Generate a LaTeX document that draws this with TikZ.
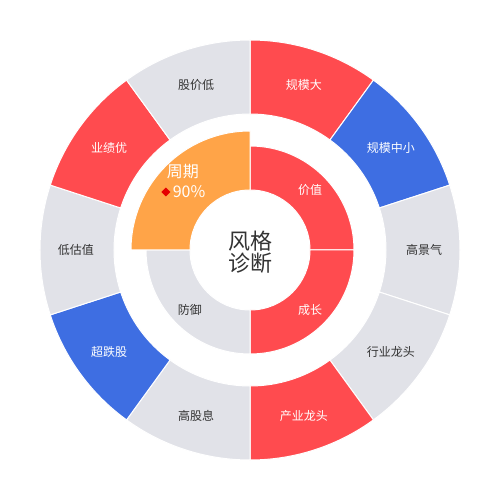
\documentclass[tikz,border=0pt]{standalone}
\usepackage{fontspec}
\setmainfont{Noto Sans CJK SC}
\usetikzlibrary{positioning,shapes.geometric}
\definecolor{SegRed}{HTML}{FF4B4F}
\definecolor{SegBlue}{HTML}{3E6EE2}
\definecolor{SegGrey}{HTML}{E1E2E8}
\definecolor{SegOrange}{HTML}{FFA448}
\definecolor{InkGrey}{HTML}{333333}

% one ring piece: inner r, outer r, from angle, to angle, colour
\newcommand{\ringpiece}[5]{%
  \fill[#5, draw=white, line width=1pt]
    (#3:#1) -- (#3:#2) arc[start angle=#3, end angle=#4, radius=#2]
    -- (#4:#1) arc[start angle=#4, end angle=#3, radius=#1] -- cycle;}

\tikzset{
  seglabel/.style={font=\fontsize{12}{14}\selectfont, inner sep=0pt},
  biglabel/.style={font=\fontsize{16}{18}\selectfont, inner sep=0pt, text=white}
}

\begin{document}
\begin{tikzpicture}[x=1pt, y=1pt]
  \fill[white] (-250,-250) rectangle (250,250);
  \useasboundingbox (-250,-250) rectangle (250,250);

  % outer ring
  \foreach \a/\b/\c/\t/\tc [count=\i] in {
      90/54/SegRed/规模大/white,
      54/18/SegBlue/规模中小/white,
      18/-18/SegGrey/高景气/InkGrey,
      -18/-54/SegGrey/行业龙头/InkGrey,
      -54/-90/SegRed/产业龙头/white,
      -90/-126/SegGrey/高股息/InkGrey,
      -126/-162/SegBlue/超跌股/white,
      -162/-198/SegGrey/低估值/InkGrey,
      -198/-234/SegRed/业绩优/white,
      -234/-270/SegGrey/股价低/InkGrey} {
    \ringpiece{136}{210}{\a}{\b}{\c}
    \node[seglabel, text=\tc] (outer\i) at ({(\a+\b)/2}:174) {\t};
  }

  % inner ring
  \foreach \a/\b/\c/\t/\tc [count=\i] in {
      90/0/SegRed/价值/white,
      0/-90/SegRed/成长/white,
      -90/-180/SegGrey/防御/InkGrey} {
    \ringpiece{60}{104}{\a}{\b}{\c}
    \node[seglabel, text=\tc] (inner\i) at ({(\a+\b)/2}:85) {\t};
  }
  \ringpiece{60}{119}{180}{90}{SegOrange}

  % highlighted piece
  \node[biglabel] (cyclename) at (-67,78) {周期};
  \node[biglabel] (cycleval) at (-61,58) {90\%};
  \node[diamond, fill=red!90!black, inner sep=0pt, minimum size=9pt,
        left=2pt of cycleval] (cyclemark) {};

  \node[font=\fontsize{22}{22}\selectfont, text=InkGrey, align=center,
        inner sep=0pt] (title) at (0,-2) {风格\\诊断};
\end{tikzpicture}
\end{document}
